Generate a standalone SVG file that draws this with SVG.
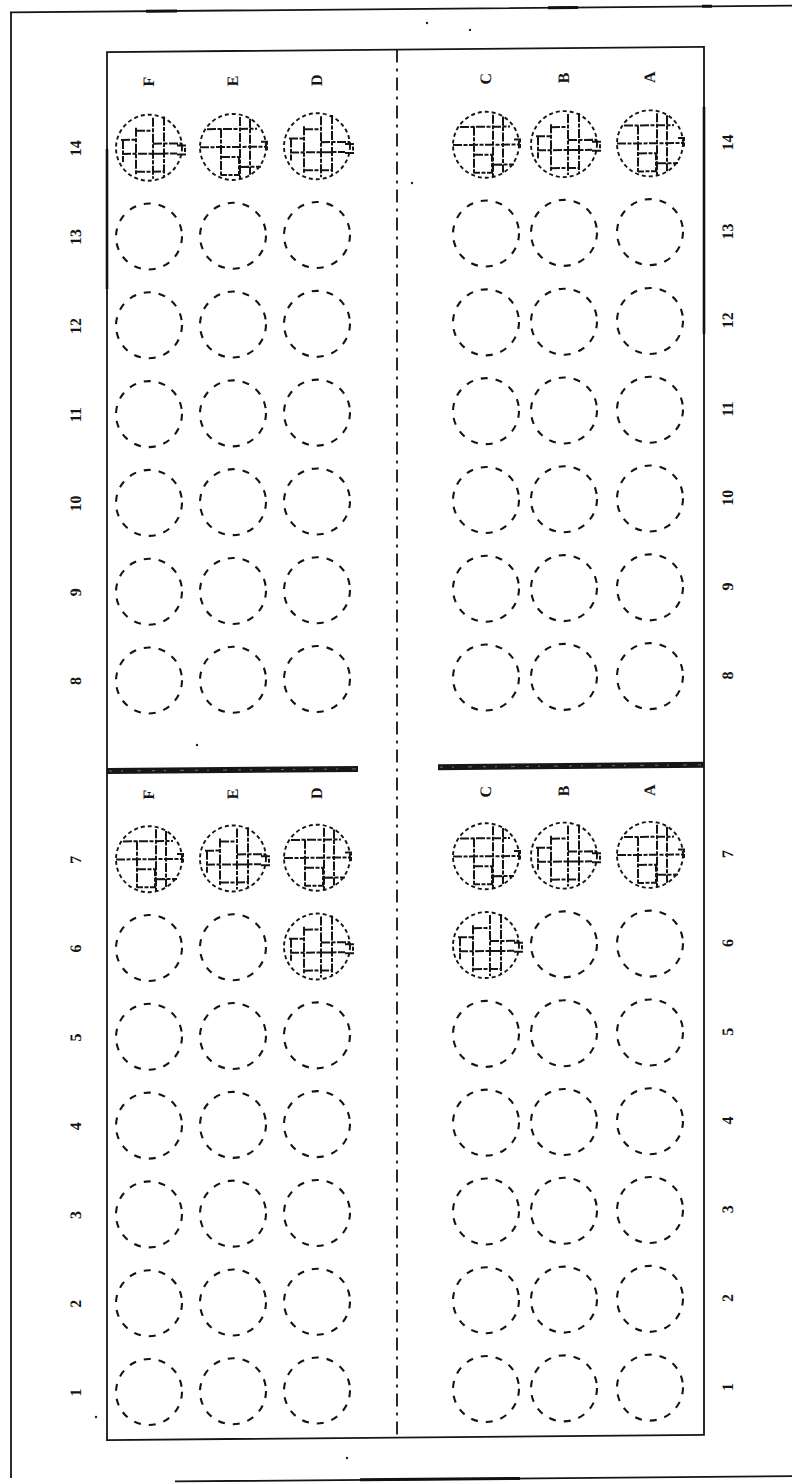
<svg xmlns="http://www.w3.org/2000/svg" xmlns:xlink="http://www.w3.org/1999/xlink" width="792" height="1484" viewBox="0 0 792 1484">
<style>
.frame{fill:none;stroke:#151515;stroke-width:1.8}
.well{fill:none;stroke:#141414;stroke-width:2.1;stroke-dasharray:7 8}
.hout{fill:none;stroke:#141414;stroke-width:1.9;stroke-dasharray:4 3}
.hl{fill:none;stroke:#141414;stroke-width:2;stroke-dasharray:9 1.5 4 1.5}
.lbl{font-family:"Liberation Serif",serif;font-size:16px;font-weight:bold;fill:#141414;text-anchor:middle;dominant-baseline:central}
.bar{fill:#161616}
.tex{stroke:#888;stroke-width:0.8;stroke-dasharray:3 9 2 14 4 11}
.speck{fill:#222}
</style>
<defs>
<g id="hatchA">
<circle r="33" class="hout"/>
<path class="hl" d="M-13,-20 V28 M4,-30 V31 M15,-31 V29 M-26,-8 V14 M-13,-17 H4 M4,-4 H33 M-27,6 H28 M-13,24 H16 M-28,-8 H-13 M28,-2 H36 V7 H28"/>
</g>
<g id="hatchB">
<circle r="33" class="hout"/>
<path class="hl" d="M-12,-18 V30 M7,-30 V32 M17,-28 V28 M-26,-18 H24 M-33,0 H33 M-12,10 H6 V28 H-12 M7,20 H28 M28,-5 H34 V4"/>
</g>
</defs>
<rect width="792" height="1484" fill="#fff"/>
<g transform="skewY(-0.5)">
<g id="frame">
<path class="frame" d="M10,12.5 H792 M11,12.5 V1478 M175,1483 H792"/>
<path stroke="#111" stroke-width="3" d="M146,12.5 H177 M548,12.5 H578 M702,12.5 H712 M360,1483 H520"/>
<rect id="plate" class="frame" x="107" y="53" width="597" height="1388"/>
<path stroke="#111" stroke-width="2.6" d="M107,150 V290 M704,113 V340"/>
</g>
<g id="connectors">
<path id="divider" fill="none" stroke="#141414" stroke-width="1.8" stroke-dasharray="13 6 3 6" d="M397,53 V1441"/>
<g id="bar-left"><rect class="bar" x="107" y="769" width="251" height="6"/><path class="tex" d="M109,772 H356"/></g>
<g id="bar-right"><rect class="bar" x="438" y="768" width="266" height="6"/><path class="tex" d="M440,771 H702"/></g>
</g>
<g id="specks">
<circle class="speck" cx="427" cy="26.7" r="1.2"/>
<circle class="speck" cx="470" cy="34" r="1.2"/>
<circle class="speck" cx="412" cy="186.6" r="1.2"/>
<circle class="speck" cx="197" cy="746.7" r="1.2"/>
<circle class="speck" cx="96" cy="1417.8" r="1.2"/>
<circle class="speck" cx="347" cy="1461" r="1.2"/>
</g>
<g id="column-labels">
<g id="col-F-top"><text class="lbl" x="149" y="83" transform="rotate(-90 149 83)">F</text></g>
<g id="col-E-top"><text class="lbl" x="233" y="83" transform="rotate(-90 233 83)">E</text></g>
<g id="col-D-top"><text class="lbl" x="317" y="83" transform="rotate(-90 317 83)">D</text></g>
<g id="col-C-top"><text class="lbl" x="486" y="83" transform="rotate(-90 486 83)">C</text></g>
<g id="col-B-top"><text class="lbl" x="564" y="83" transform="rotate(-90 564 83)">B</text></g>
<g id="col-A-top"><text class="lbl" x="650" y="83" transform="rotate(-90 650 83)">A</text></g>
<g id="col-F-bot"><text class="lbl" x="149" y="796" transform="rotate(-90 149 796)">F</text></g>
<g id="col-E-bot"><text class="lbl" x="233" y="796" transform="rotate(-90 233 796)">E</text></g>
<g id="col-D-bot"><text class="lbl" x="317" y="796" transform="rotate(-90 317 796)">D</text></g>
<g id="col-C-bot"><text class="lbl" x="486" y="796" transform="rotate(-90 486 796)">C</text></g>
<g id="col-B-bot"><text class="lbl" x="564" y="796" transform="rotate(-90 564 796)">B</text></g>
<g id="col-A-bot"><text class="lbl" x="650" y="796" transform="rotate(-90 650 796)">A</text></g>
</g>
<g id="row-labels">
<g id="row14"><text class="lbl" x="76" y="149" transform="rotate(-90 76 149)">14</text><text class="lbl" x="728" y="149" transform="rotate(-90 728 149)">14</text></g>
<g id="row13"><text class="lbl" x="76" y="237.8" transform="rotate(-90 76 237.8)">13</text><text class="lbl" x="728" y="237.8" transform="rotate(-90 728 237.8)">13</text></g>
<g id="row12"><text class="lbl" x="76" y="326.6" transform="rotate(-90 76 326.6)">12</text><text class="lbl" x="728" y="326.6" transform="rotate(-90 728 326.6)">12</text></g>
<g id="row11"><text class="lbl" x="76" y="415.4" transform="rotate(-90 76 415.4)">11</text><text class="lbl" x="728" y="415.4" transform="rotate(-90 728 415.4)">11</text></g>
<g id="row10"><text class="lbl" x="76" y="504.2" transform="rotate(-90 76 504.2)">10</text><text class="lbl" x="728" y="504.2" transform="rotate(-90 728 504.2)">10</text></g>
<g id="row9"><text class="lbl" x="76" y="593" transform="rotate(-90 76 593)">9</text><text class="lbl" x="728" y="593" transform="rotate(-90 728 593)">9</text></g>
<g id="row8"><text class="lbl" x="76" y="681.8" transform="rotate(-90 76 681.8)">8</text><text class="lbl" x="728" y="681.8" transform="rotate(-90 728 681.8)">8</text></g>
<g id="row7"><text class="lbl" x="76" y="860.5" transform="rotate(-90 76 860.5)">7</text><text class="lbl" x="728" y="860.5" transform="rotate(-90 728 860.5)">7</text></g>
<g id="row6"><text class="lbl" x="76" y="949.3" transform="rotate(-90 76 949.3)">6</text><text class="lbl" x="728" y="949.3" transform="rotate(-90 728 949.3)">6</text></g>
<g id="row5"><text class="lbl" x="76" y="1038.1" transform="rotate(-90 76 1038.1)">5</text><text class="lbl" x="728" y="1038.1" transform="rotate(-90 728 1038.1)">5</text></g>
<g id="row4"><text class="lbl" x="76" y="1126.9" transform="rotate(-90 76 1126.9)">4</text><text class="lbl" x="728" y="1126.9" transform="rotate(-90 728 1126.9)">4</text></g>
<g id="row3"><text class="lbl" x="76" y="1215.7" transform="rotate(-90 76 1215.7)">3</text><text class="lbl" x="728" y="1215.7" transform="rotate(-90 728 1215.7)">3</text></g>
<g id="row2"><text class="lbl" x="76" y="1304.5" transform="rotate(-90 76 1304.5)">2</text><text class="lbl" x="728" y="1304.5" transform="rotate(-90 728 1304.5)">2</text></g>
<g id="row1"><text class="lbl" x="76" y="1393.3" transform="rotate(-90 76 1393.3)">1</text><text class="lbl" x="728" y="1393.3" transform="rotate(-90 728 1393.3)">1</text></g>
</g>
<g id="wells">
<g id="w-F14"><use href="#hatchA" x="149" y="149"/></g>
<g id="w-E14"><use href="#hatchB" x="233" y="149"/></g>
<g id="w-D14"><use href="#hatchA" x="317" y="149"/></g>
<g id="w-C14"><use href="#hatchB" x="486" y="149"/></g>
<g id="w-B14"><use href="#hatchA" x="564" y="149"/></g>
<g id="w-A14"><use href="#hatchB" x="650" y="149"/></g>
<g id="w-F13"><circle class="well" cx="149" cy="237.8" r="33"/></g>
<g id="w-E13"><circle class="well" cx="233" cy="237.8" r="33"/></g>
<g id="w-D13"><circle class="well" cx="317" cy="237.8" r="33"/></g>
<g id="w-C13"><circle class="well" cx="486" cy="237.8" r="33"/></g>
<g id="w-B13"><circle class="well" cx="564" cy="237.8" r="33"/></g>
<g id="w-A13"><circle class="well" cx="650" cy="237.8" r="33"/></g>
<g id="w-F12"><circle class="well" cx="149" cy="326.6" r="33"/></g>
<g id="w-E12"><circle class="well" cx="233" cy="326.6" r="33"/></g>
<g id="w-D12"><circle class="well" cx="317" cy="326.6" r="33"/></g>
<g id="w-C12"><circle class="well" cx="486" cy="326.6" r="33"/></g>
<g id="w-B12"><circle class="well" cx="564" cy="326.6" r="33"/></g>
<g id="w-A12"><circle class="well" cx="650" cy="326.6" r="33"/></g>
<g id="w-F11"><circle class="well" cx="149" cy="415.4" r="33"/></g>
<g id="w-E11"><circle class="well" cx="233" cy="415.4" r="33"/></g>
<g id="w-D11"><circle class="well" cx="317" cy="415.4" r="33"/></g>
<g id="w-C11"><circle class="well" cx="486" cy="415.4" r="33"/></g>
<g id="w-B11"><circle class="well" cx="564" cy="415.4" r="33"/></g>
<g id="w-A11"><circle class="well" cx="650" cy="415.4" r="33"/></g>
<g id="w-F10"><circle class="well" cx="149" cy="504.2" r="33"/></g>
<g id="w-E10"><circle class="well" cx="233" cy="504.2" r="33"/></g>
<g id="w-D10"><circle class="well" cx="317" cy="504.2" r="33"/></g>
<g id="w-C10"><circle class="well" cx="486" cy="504.2" r="33"/></g>
<g id="w-B10"><circle class="well" cx="564" cy="504.2" r="33"/></g>
<g id="w-A10"><circle class="well" cx="650" cy="504.2" r="33"/></g>
<g id="w-F9"><circle class="well" cx="149" cy="593" r="33"/></g>
<g id="w-E9"><circle class="well" cx="233" cy="593" r="33"/></g>
<g id="w-D9"><circle class="well" cx="317" cy="593" r="33"/></g>
<g id="w-C9"><circle class="well" cx="486" cy="593" r="33"/></g>
<g id="w-B9"><circle class="well" cx="564" cy="593" r="33"/></g>
<g id="w-A9"><circle class="well" cx="650" cy="593" r="33"/></g>
<g id="w-F8"><circle class="well" cx="149" cy="681.8" r="33"/></g>
<g id="w-E8"><circle class="well" cx="233" cy="681.8" r="33"/></g>
<g id="w-D8"><circle class="well" cx="317" cy="681.8" r="33"/></g>
<g id="w-C8"><circle class="well" cx="486" cy="681.8" r="33"/></g>
<g id="w-B8"><circle class="well" cx="564" cy="681.8" r="33"/></g>
<g id="w-A8"><circle class="well" cx="650" cy="681.8" r="33"/></g>
<g id="w-F7"><use href="#hatchB" x="149" y="860.5"/></g>
<g id="w-E7"><use href="#hatchA" x="233" y="860.5"/></g>
<g id="w-D7"><use href="#hatchB" x="317" y="860.5"/></g>
<g id="w-C7"><use href="#hatchB" x="486" y="860.5"/></g>
<g id="w-B7"><use href="#hatchA" x="564" y="860.5"/></g>
<g id="w-A7"><use href="#hatchB" x="650" y="860.5"/></g>
<g id="w-F6"><circle class="well" cx="149" cy="949.3" r="33"/></g>
<g id="w-E6"><circle class="well" cx="233" cy="949.3" r="33"/></g>
<g id="w-D6"><use href="#hatchA" x="317" y="949.3"/></g>
<g id="w-C6"><use href="#hatchA" x="486" y="949.3"/></g>
<g id="w-B6"><circle class="well" cx="564" cy="949.3" r="33"/></g>
<g id="w-A6"><circle class="well" cx="650" cy="949.3" r="33"/></g>
<g id="w-F5"><circle class="well" cx="149" cy="1038.1" r="33"/></g>
<g id="w-E5"><circle class="well" cx="233" cy="1038.1" r="33"/></g>
<g id="w-D5"><circle class="well" cx="317" cy="1038.1" r="33"/></g>
<g id="w-C5"><circle class="well" cx="486" cy="1038.1" r="33"/></g>
<g id="w-B5"><circle class="well" cx="564" cy="1038.1" r="33"/></g>
<g id="w-A5"><circle class="well" cx="650" cy="1038.1" r="33"/></g>
<g id="w-F4"><circle class="well" cx="149" cy="1126.9" r="33"/></g>
<g id="w-E4"><circle class="well" cx="233" cy="1126.9" r="33"/></g>
<g id="w-D4"><circle class="well" cx="317" cy="1126.9" r="33"/></g>
<g id="w-C4"><circle class="well" cx="486" cy="1126.9" r="33"/></g>
<g id="w-B4"><circle class="well" cx="564" cy="1126.9" r="33"/></g>
<g id="w-A4"><circle class="well" cx="650" cy="1126.9" r="33"/></g>
<g id="w-F3"><circle class="well" cx="149" cy="1215.7" r="33"/></g>
<g id="w-E3"><circle class="well" cx="233" cy="1215.7" r="33"/></g>
<g id="w-D3"><circle class="well" cx="317" cy="1215.7" r="33"/></g>
<g id="w-C3"><circle class="well" cx="486" cy="1215.7" r="33"/></g>
<g id="w-B3"><circle class="well" cx="564" cy="1215.7" r="33"/></g>
<g id="w-A3"><circle class="well" cx="650" cy="1215.7" r="33"/></g>
<g id="w-F2"><circle class="well" cx="149" cy="1304.5" r="33"/></g>
<g id="w-E2"><circle class="well" cx="233" cy="1304.5" r="33"/></g>
<g id="w-D2"><circle class="well" cx="317" cy="1304.5" r="33"/></g>
<g id="w-C2"><circle class="well" cx="486" cy="1304.5" r="33"/></g>
<g id="w-B2"><circle class="well" cx="564" cy="1304.5" r="33"/></g>
<g id="w-A2"><circle class="well" cx="650" cy="1304.5" r="33"/></g>
<g id="w-F1"><circle class="well" cx="149" cy="1393.3" r="33"/></g>
<g id="w-E1"><circle class="well" cx="233" cy="1393.3" r="33"/></g>
<g id="w-D1"><circle class="well" cx="317" cy="1393.3" r="33"/></g>
<g id="w-C1"><circle class="well" cx="486" cy="1393.3" r="33"/></g>
<g id="w-B1"><circle class="well" cx="564" cy="1393.3" r="33"/></g>
<g id="w-A1"><circle class="well" cx="650" cy="1393.3" r="33"/></g>
</g>
</g>
</svg>
